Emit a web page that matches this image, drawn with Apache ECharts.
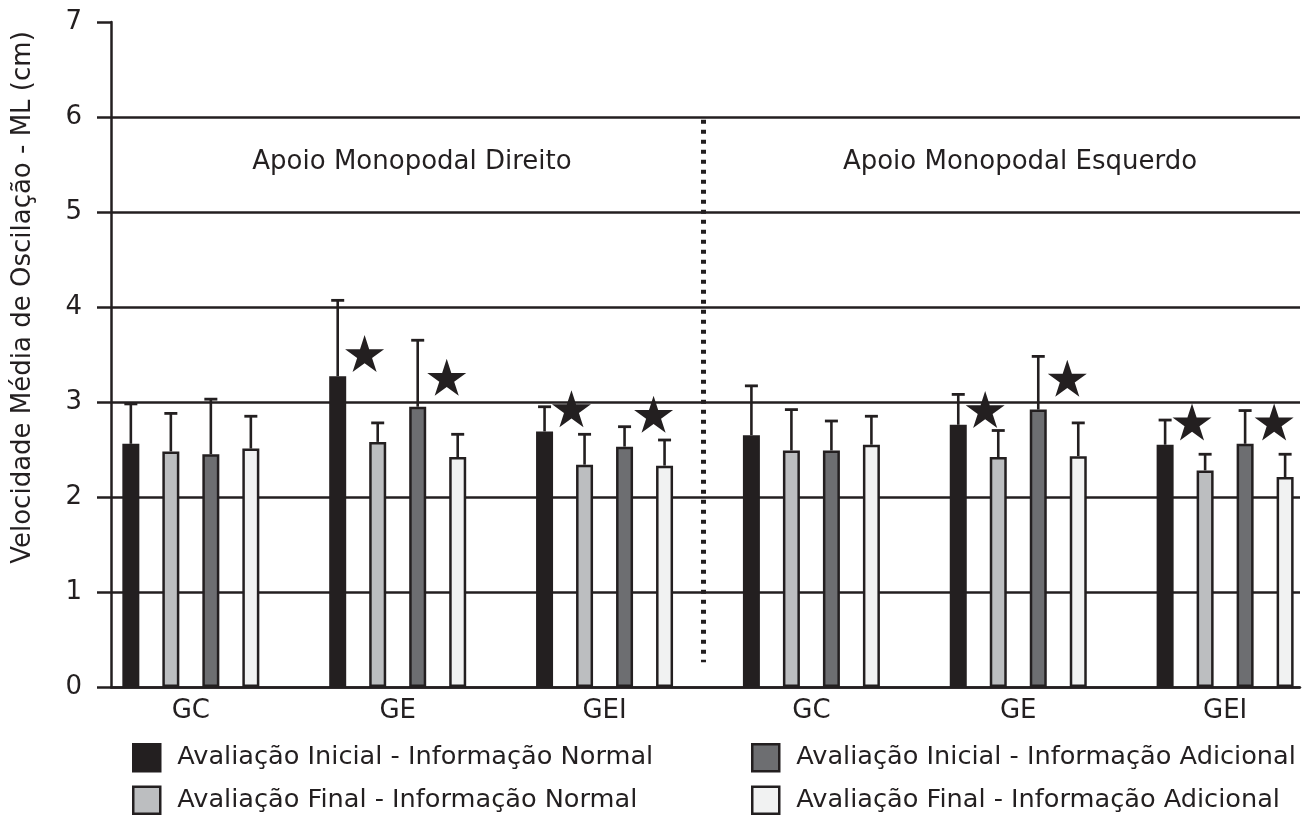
<!DOCTYPE html>
<html>
<head>
<meta charset="utf-8">
<script src="https://cdn.jsdelivr.net/npm/echarts@6/dist/echarts.min.js"></script>
<style>
html,body{margin:0;padding:0;background:#fff;}
#chart{width:1309px;height:816px;}
</style>
</head>
<body>
<div id="chart"></div>
<script>
// ---- data ----
const categories = ['GC', 'GE', 'GEI', 'GC', 'GE', 'GEI'];
const seriesNames = [
  'Avaliação Inicial - Informação Normal',
  'Avaliação Final - Informação Normal',
  'Avaliação Inicial - Informação Adicional',
  'Avaliação Final - Informação Adicional'
];
const iniNormal = [2.56, 3.27, 2.69, 2.65, 2.76, 2.55];
const finNormal = [2.48, 2.58, 2.34, 2.49, 2.42, 2.28];
const iniAdic   = [2.45, 2.95, 2.53, 2.49, 2.92, 2.56];
const finAdic   = [2.51, 2.42, 2.33, 2.55, 2.43, 2.21];
const iniNormalSD = [0.42, 0.80, 0.26, 0.52, 0.32, 0.26];
const finNormalSD = [0.40, 0.20, 0.32, 0.43, 0.28, 0.17];
const iniAdicSD   = [0.58, 0.70, 0.21, 0.31, 0.56, 0.35];
const finAdicSD   = [0.34, 0.24, 0.27, 0.30, 0.35, 0.24];
// stars: group index, which pair (0 = after normal pair, 1 = after adicional pair), y value
const starGroup = [1, 1, 2, 2, 4, 4, 5, 5];
const starPair  = [0, 1, 0, 1, 0, 1, 0, 1];
const starY     = [3.51, 3.26, 2.93, 2.87, 2.92, 3.25, 2.79, 2.79];
const yTicks = [0, 7, 1]; // min, max, interval
const panelLabels = ['Apoio Monopodal Direito', 'Apoio Monopodal Esquerdo'];

// ---- styles / layout ----
const FONT = 'DejaVu Sans';
const INK = '#231f20';
const colors = ['#231f20', '#bcbec0', '#6d6e71', '#f1f2f2'];
const BAR_W = 17, BAR_SPACING = 40;
const STAR_OFF = [-0.16, 0.237];
const DIV_X = 2.476, DIV_TOP = 5.97, DIV_BOTTOM = 0.26;

const values = [iniNormal, finNormal, iniAdic, finAdic];
const sds = [iniNormalSD, finNormalSD, iniAdicSD, finAdicSD];

const barSeries = values.map((vals, k) => ({
  name: seriesNames[k],
  type: 'bar',
  data: vals.map((v, i) => [i, v]),
  barWidth: BAR_W,
  barGap: ((BAR_SPACING - BAR_W) / BAR_W * 100) + '%',
  itemStyle: { color: colors[k], borderColor: INK, borderWidth: k === 0 ? 0 : 2.5 },
  emphasis: { disabled: true },
  z: 2
}));

const errData = [];
values.forEach((vals, k) => vals.forEach((v, i) => errData.push([i, v, v + sds[k][i], k])));

const errSeries = {
  type: 'custom',
  data: errData,
  z: 3,
  silent: true,
  renderItem: function (params, api) {
    const x = api.value(0), m = api.value(1), t = api.value(2), k = api.value(3);
    const p1 = api.coord([x, m]);
    const p2 = api.coord([x, t]);
    const cx = p1[0] + (k - 1.5) * BAR_SPACING;
    const cap = 6.5;
    return {
      type: 'group',
      children: [
        { type: 'line', shape: { x1: cx, y1: p1[1], x2: cx, y2: p2[1] }, style: { stroke: INK, lineWidth: 2.6 } },
        { type: 'line', shape: { x1: cx - cap, y1: p2[1], x2: cx + cap, y2: p2[1] }, style: { stroke: INK, lineWidth: 2.8 } }
      ]
    };
  }
};

const STAR_PATH = 'path://M50,0 L61.2,34.5 L97.6,34.5 L68.2,55.9 L79.4,90.5 L50,69.1 L20.6,90.5 L31.8,55.9 L2.4,34.5 L38.8,34.5 Z';
const starSeries = {
  type: 'scatter',
  data: starGroup.map((g, i) => [g + STAR_OFF[starPair[i]], starY[i]]),
  symbol: STAR_PATH,
  symbolSize: [39, 37],
  itemStyle: { color: INK, opacity: 1 },
  silent: true,
  z: 4,
  markLine: {
    silent: true,
    symbol: 'none',
    label: { show: false },
    lineStyle: { color: INK, width: 5, type: [4, 6], opacity: 1 },
    data: [[{ coord: [DIV_X, DIV_TOP] }, { coord: [DIV_X, DIV_BOTTOM] }]]
  }
};

const legendBase = {
  top: 743, orient: 'vertical', padding: 0,
  height: 120,
  itemWidth: 27, itemHeight: 27, itemGap: 13,
  icon: 'rect',
  selectedMode: false,
  itemStyle: { borderColor: INK, borderWidth: 2.5 },
  textStyle: { fontFamily: FONT, fontSize: 25.6, color: INK, padding: [0, 0, 0, 12] }
};

const chart = echarts.init(document.getElementById('chart'), null, { renderer: 'canvas' });
chart.setOption({
  animation: false,
  backgroundColor: '#fff',
  textStyle: { fontFamily: FONT, color: INK },
  grid: { left: 111, right: 9, top: 22, bottom: 129, containLabel: false },
  xAxis: {
    type: 'value',
    min: -0.386,
    max: 5.362,
    splitLine: { show: false },
    axisTick: { show: false },
    axisLine: { show: true, onZero: false, lineStyle: { color: INK, width: 2.5 } },
    axisLabel: {
      customValues: categories.map((c, i) => i),
      formatter: v => categories[Math.round(v)],
      fontFamily: FONT, fontSize: 26, color: INK, margin: 11
    }
  },
  yAxis: {
    type: 'value',
    min: yTicks[0], max: yTicks[1], interval: yTicks[2],
    name: 'Velocidade Média de Oscilação - ML (cm)',
    nameLocation: 'middle',
    nameGap: 75,
    nameRotate: 90,
    nameTextStyle: { fontFamily: FONT, fontSize: 26, color: INK, padding: [0, 0, 0, 114] },
    axisLine: { show: true, onZero: false, lineStyle: { color: INK, width: 2.5 } },
    axisTick: { show: true, length: 14, lineStyle: { color: INK, width: 2.5 } },
    axisLabel: { fontFamily: FONT, fontSize: 26, color: INK, margin: 29 },
    splitLine: { show: true, showMaxLine: false, lineStyle: { color: INK, width: 2.5 } }
  },
  legend: [
    Object.assign({}, legendBase, { left: 132, data: [seriesNames[0], seriesNames[1]] }),
    Object.assign({}, legendBase, { left: 751, data: [seriesNames[2], seriesNames[3]] })
  ],
  graphic: [
    { type: 'text', x: 412, y: 162, style: { text: panelLabels[0], fontFamily: FONT, fontSize: 26, fill: INK, textAlign: 'center', textVerticalAlign: 'middle' } },
    { type: 'text', x: 1020, y: 162, style: { text: panelLabels[1], fontFamily: FONT, fontSize: 26, fill: INK, textAlign: 'center', textVerticalAlign: 'middle' } }
  ],
  series: [...barSeries, errSeries, starSeries]
});
</script>
</body>
</html>
